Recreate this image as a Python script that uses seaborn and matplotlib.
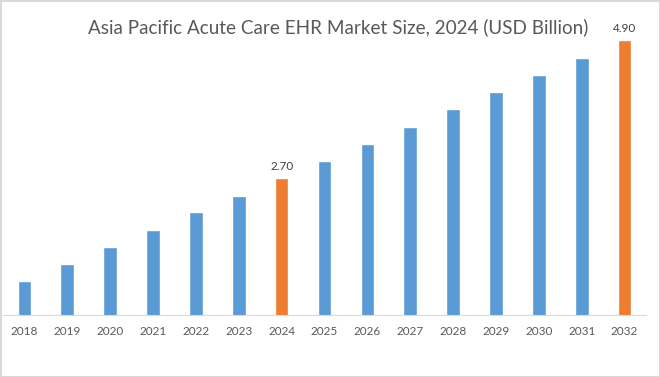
import matplotlib
matplotlib.use("Agg")
import matplotlib.pyplot as plt
import seaborn as sns
import pandas as pd

years = ["2018", "2019", "2020", "2021", "2022", "2023", "2024", "2025",
         "2026", "2027", "2028", "2029", "2030", "2031", "2032"]
values = [1.06, 1.33, 1.60, 1.87, 2.15, 2.42, 2.70, 2.97,
          3.25, 3.52, 3.80, 4.07, 4.35, 4.62, 4.90]
labelled = {"2024": "2.70", "2032": "4.90"}

blue = "#5b9bd5"
orange = "#ed7d31"

df = pd.DataFrame({"year": years, "value": values})
palette = {y: (orange if y in labelled else blue) for y in years}

sns.set_style("white")
plt.rcParams["font.family"] = ["Lato", "DejaVu Sans"]

fig = plt.figure(figsize=(6.6, 3.77), dpi=100)
fig.patch.set_edgecolor("#d9d9d9")
fig.patch.set_linewidth(2)
ax = fig.add_axes([3 / 660, 1 - 315 / 377, 643 / 660, 295 / 377])

sns.barplot(data=df, x="year", y="value", hue="year", palette=palette,
            width=0.32, legend=False, ax=ax, saturation=1)

ax.set_xlim(-0.5, len(years) - 0.5)
ax.set_ylim(0.515, 0.515 + 295 / 62.7)
ax.set_xlabel("")
ax.set_ylabel("")
ax.set_yticks([])
for s in ["top", "right", "left"]:
    ax.spines[s].set_visible(False)
ax.spines["bottom"].set_color("#d9d9d9")
ax.tick_params(axis="x", length=0, labelsize=8.5, colors="#595959", pad=8)

for i, y in enumerate(years):
    if y in labelled:
        ax.text(i, values[i] + 0.1, labelled[y], ha="center", va="bottom",
                fontsize=8.5, color="#404040")

fig.text(0.513, 0.928, "Asia Pacific Acute Care EHR Market Size, 2024 (USD Billion)",
         ha="center", va="center", fontsize=13.6, color="#595959")

fig.savefig("out.png", dpi=100)
